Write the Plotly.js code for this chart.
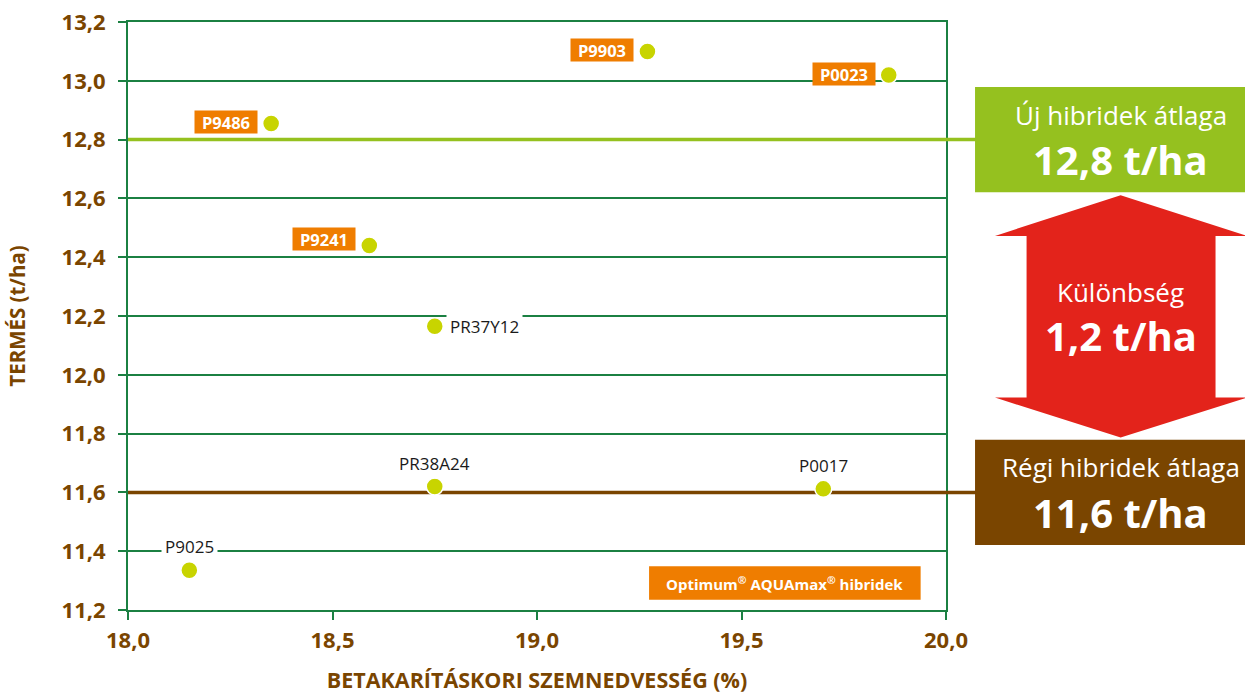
<!DOCTYPE html>
<html>
<head>
<meta charset="utf-8">
<script src="https://cdn.plot.ly/plotly-3.0.1.min.js"></script>
<style>
html,body{margin:0;padding:0;background:#fff;}
#chart{width:1245px;height:695px;}
</style>
</head>
<body>
<div id="chart"></div>
<script>
// ---- data ----
var hybridNames = ["P9903", "P0023", "P9486", "P9241", "PR37Y12", "PR38A24", "P0017", "P9025"];
var moisture    = [19.27, 19.86, 18.35, 18.59, 18.75, 18.75, 19.70, 18.15];
var yieldVals   = [13.10, 13.02, 12.855, 12.44, 12.165, 11.62, 11.612, 11.335];
var isAquamax   = [true, true, true, true, false, false, false, false];
var labelSide   = ["left", "left", "left", "left", "right", "top", "top", "top"];
var newAvg = 12.8;
var oldAvg = 11.6;
var difference = 1.2;
var xTicks = [18.0, 18.5, 19.0, 19.5, 20.0];
var yTicks = [11.2, 11.4, 11.6, 11.8, 12.0, 12.2, 12.4, 12.6, 12.8, 13.0, 13.2];

var fmt = function (v, d) { return v.toFixed(d).replace('.', ','); };

var GRID = '#1b8042';
var BROWN = '#7a4500';
var ORANGE = '#ef7d00';
var LGREEN = '#95c11f';
var RED = '#e3231b';
var FONT = 'Open Sans, Noto Sans, sans-serif';

var xRange = [xTicks[0], xTicks[xTicks.length - 1]];

var newLine = {
  type: 'scatter', mode: 'lines', x: xRange, y: [newAvg, newAvg],
  line: { color: LGREEN, width: 3.5 }, hoverinfo: 'skip'
};
var oldLine = {
  type: 'scatter', mode: 'lines', x: xRange, y: [oldAvg, oldAvg],
  line: { color: BROWN, width: 3.5 }, hoverinfo: 'skip'
};
var points = {
  type: 'scatter', mode: 'markers',
  x: moisture, y: yieldVals,
  marker: { size: 17, color: '#c8d400', line: { color: '#ffffff', width: 1.5 } },
  hoverinfo: 'skip', cliponaxis: false
};

var annotations = [];
hybridNames.forEach(function (n, i) {
  if (isAquamax[i]) {
    annotations.push({
      xref: 'x', yref: 'y', x: moisture[i], y: yieldVals[i], text: '<b>' + n + '</b>',
      showarrow: false, xanchor: 'right', yanchor: 'middle', xshift: -13, yshift: (n === 'P9241' ? 6 : 1),
      bgcolor: ORANGE, width: 59, height: 19, borderpad: 1.5,
      font: { family: FONT, size: 16.5, color: '#ffffff' }
    });
  } else if (labelSide[i] === 'right') {
    annotations.push({
      xref: 'x', yref: 'y', x: moisture[i], y: yieldVals[i], text: n,
      showarrow: false, xanchor: 'left', yanchor: 'middle', xshift: 11,
      bgcolor: '#ffffff', borderpad: 3,
      font: { family: FONT, size: 17, color: '#1a1a1a' }
    });
  } else {
    annotations.push({
      xref: 'x', yref: 'y', x: moisture[i], y: yieldVals[i], text: n,
      showarrow: false, xanchor: 'center', yanchor: 'bottom', yshift: 8,
      bgcolor: '#ffffff', borderpad: 3,
      font: { family: FONT, size: 17, color: '#1a1a1a' }
    });
  }
});

// right-side info panel (paper x, data y)
var boxHalf = 0.179;   // half-height of info boxes in y units
var cx = 1.2135;       // panel centre (paper x)
function panelText(y, shift, txt, size) {
  return { xref: 'paper', yref: 'y', x: cx, y: y, yshift: shift, text: txt, showarrow: false,
    xanchor: 'center', yanchor: 'middle', font: { family: FONT, size: size, color: '#ffffff' } };
}
annotations.push(
  panelText(newAvg, 25, 'Új hibridek átlaga', 26),
  panelText(newAvg, -20, '<b>' + fmt(newAvg, 1) + ' t/ha</b>', 40),
  panelText(oldAvg, 25, 'Régi hibridek átlaga', 26),
  panelText(oldAvg, -20, '<b>' + fmt(oldAvg, 1) + ' t/ha</b>', 40),
  panelText((newAvg + oldAvg) / 2, 24, 'Különbség', 26),
  panelText((newAvg + oldAvg) / 2, -19, '<b>' + fmt(difference, 1) + ' t/ha</b>', 40),
  { xref: 'paper', yref: 'paper', x: 0.803, y: 0.0455, text: '<b>Optimum<sup>®</sup> AQUAmax<sup>®</sup> hibridek</b>', showarrow: false,
    xanchor: 'center', yanchor: 'middle',
    font: { family: FONT, size: 15, color: '#ffffff' } }
);

// arrow geometry (paper x, data y)
var tipTop = newAvg - boxHalf - 0.0105;
var headTop = tipTop - 0.138;
var tipBot = oldAvg + boxHalf + 0.0075;
var headBot = tipBot + 0.136;
var hl = 1.0599, hr = 1.368, sl = 1.0985, sr = 1.3295;
var arrowPath = 'M ' + cx + ' ' + tipTop + ' L ' + hr + ' ' + headTop + ' L ' + sr + ' ' + headTop +
  ' L ' + sr + ' ' + headBot + ' L ' + hr + ' ' + headBot + ' L ' + cx + ' ' + tipBot +
  ' L ' + hl + ' ' + headBot + ' L ' + sl + ' ' + headBot + ' L ' + sl + ' ' + headTop +
  ' L ' + hl + ' ' + headTop + ' Z';

var shapes = [
  { type: 'line', xref: 'paper', yref: 'y', x0: 1.0, x1: 1.06, y0: newAvg, y1: newAvg,
    line: { color: LGREEN, width: 3.5 }, layer: 'above' },
  { type: 'line', xref: 'paper', yref: 'y', x0: 1.0, x1: 1.06, y0: oldAvg, y1: oldAvg,
    line: { color: BROWN, width: 3.5 }, layer: 'above' },
  { type: 'rect', xref: 'paper', yref: 'y', x0: 1.0355, x1: 1.4, y0: newAvg - boxHalf, y1: newAvg + boxHalf,
    fillcolor: LGREEN, line: { width: 0 }, layer: 'above' },
  { type: 'rect', xref: 'paper', yref: 'y', x0: 1.0355, x1: 1.4, y0: oldAvg - boxHalf, y1: oldAvg + boxHalf,
    fillcolor: BROWN, line: { width: 0 }, layer: 'above' },
  { type: 'path', xref: 'paper', yref: 'y', path: arrowPath, fillcolor: RED, line: { width: 0 }, layer: 'above' },
  { type: 'rect', xref: 'paper', yref: 'paper', x0: 0.637, x1: 0.969, y0: 0.0175, y1: 0.0745,
    fillcolor: ORANGE, line: { width: 0 }, layer: 'above' }
];

var layout = {
  width: 1245, height: 695,
  margin: { l: 128, r: 299, t: 22, b: 85 },
  paper_bgcolor: '#ffffff', plot_bgcolor: '#ffffff',
  separators: ', ',
  showlegend: false,
  font: { family: FONT },
  xaxis: {
    range: xRange, tickvals: xTicks, ticktext: xTicks.map(function (v) { return fmt(v, 1); }),
    showgrid: false, zeroline: false,
    showline: true, mirror: true, linecolor: GRID, linewidth: 2,
    ticks: 'outside', ticklen: 8, tickwidth: 2, tickcolor: GRID,
    tickfont: { family: FONT, size: 22, color: BROWN, weight: 'bold' },
    ticklabelstandoff: 2,
    title: { text: '<b>BETAKARÍTÁSKORI SZEMNEDVESSÉG (%)</b>', font: { family: FONT, size: 21.5, color: BROWN }, standoff: 20 },
    fixedrange: true
  },
  yaxis: {
    range: [11.2, 13.2], tickvals: yTicks, ticktext: yTicks.map(function (v) { return fmt(v, 1); }),
    showgrid: true, gridcolor: GRID, gridwidth: 2, zeroline: false,
    showline: true, mirror: true, linecolor: GRID, linewidth: 2,
    ticks: 'outside', ticklen: 8, tickwidth: 2, tickcolor: GRID,
    tickfont: { family: FONT, size: 22, color: BROWN, weight: 'bold' },
    ticklabelstandoff: 8,
    title: { text: '<b>TERMÉS (t/ha)</b>', font: { family: FONT, size: 20.5, color: BROWN }, standoff: 30 },
    fixedrange: true
  },
  shapes: shapes,
  annotations: annotations
};

Plotly.newPlot('chart', [newLine, oldLine, points], layout, { displayModeBar: false, staticPlot: true });
</script>
</body>
</html>
